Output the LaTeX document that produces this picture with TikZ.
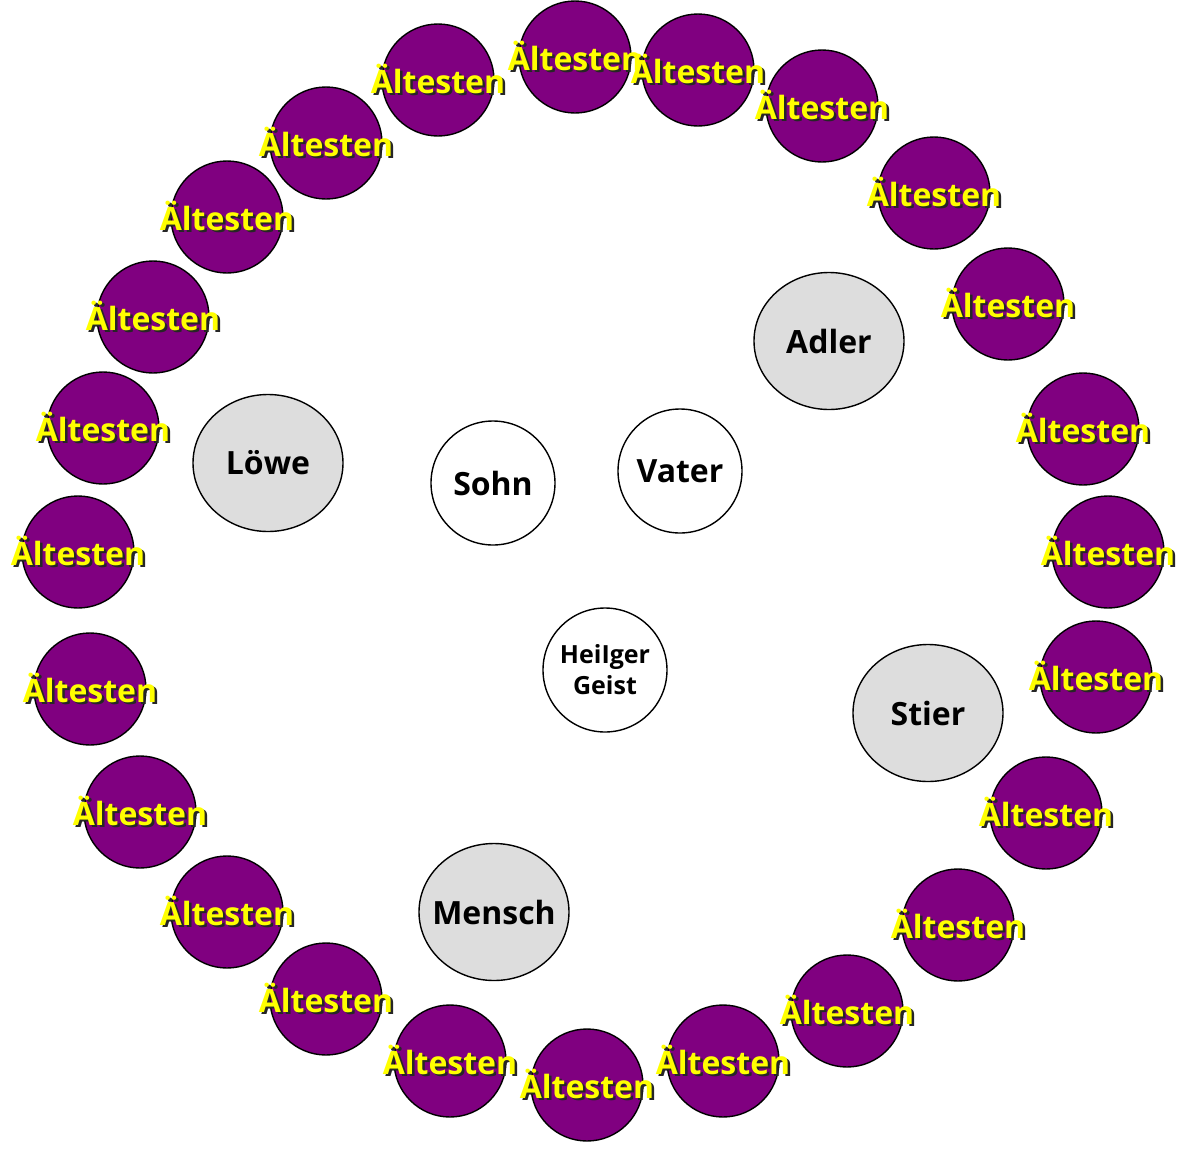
\documentclass[tikz,border=0pt]{standalone}
\usepackage{fontspec}
\setmainfont{Open Sans}
\usetikzlibrary{shapes.geometric}
\definecolor{aeltestenlila}{HTML}{800080}
\definecolor{wesengrau}{HTML}{DDDDDD}
\definecolor{textgelb}{HTML}{FFFF00}
% gelber Text mit dunklem Schatten
\newcommand{\schatten}[1]{\makebox[0pt][l]{\hspace{2.5pt}\raisebox{-2.5pt}{\textcolor{black!85}{#1}}}\textcolor{textgelb}{#1}}
\tikzset{
  aeltester/.style={circle,draw,line width=1.4pt,fill=aeltestenlila,minimum size=112pt,inner sep=0pt},
  aeltestertext/.style={inner sep=0pt,font=\bfseries\fontsize{32}{36}\selectfont},
  wesen/.style={ellipse,draw,line width=1.4pt,fill=wesengrau,minimum width=150pt,minimum height=137pt,inner sep=0pt},
  gott/.style={circle,draw,line width=1.4pt,fill=white,minimum size=124pt,inner sep=0pt},
  namentext/.style={inner sep=0pt,font=\bfseries\fontsize{32}{36}\selectfont}
}
\begin{document}
\begin{tikzpicture}[x=1pt,y=-1pt]
\useasboundingbox (0,0) rectangle (1187,1149);
% die 24 Aeltesten
\foreach \x/\y [count=\i] in {575/57,698/70,822/106,934/193,1008/304,1083/429,
    1108/552,1096/677,1046/813,958/925,847/1011,723/1061,587/1085,450/1061,
    326/999,227/912,140/812,90/689,78/552,103/428,153/317,227/217,326/143,438/80}{
  \node[aeltester] (a\i) at (\x,\y) {};
  \node[aeltestertext] at (a\i) {\schatten{Ältesten}};
}
% die vier Wesen
\node[wesen] (adler) at (829,341) {};
\node[namentext] at (adler) {Adler};
\node[wesen] (loewe) at (268,463) {};
\node[namentext] at (loewe) {Löwe};
\node[wesen] (stier) at (928,713) {};
\node[namentext] at (stier) {Stier};
\node[wesen] (mensch) at (494,912) {};
\node[namentext] at (mensch) {Mensch};
% Mitte
\node[gott] (sohn) at (493,483) {};
\node[namentext] at (sohn) {Sohn};
\node[gott] (vater) at (680,471) {};
\node[namentext] at (vater) {Vater};
\node[gott] (geist) at (605,670) {};
\node[namentext,align=center,font=\bfseries\fontsize{25}{31}\selectfont] at (geist) {HeiIger\\Geist};
\end{tikzpicture}
\end{document}
